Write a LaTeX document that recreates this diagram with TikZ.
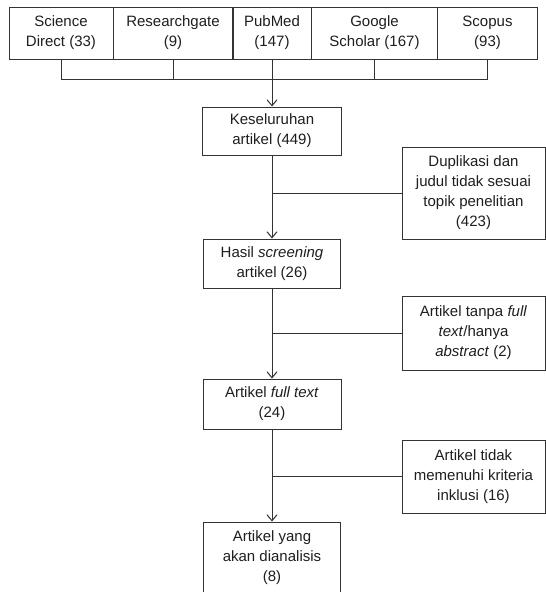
\documentclass[tikz,border=0pt]{standalone}
\usepackage{fontspec}
\setmainfont{Liberation Sans}
\usetikzlibrary{arrows.meta}
\definecolor{linec}{HTML}{333333}
\definecolor{textc}{HTML}{1E1E1E}
\begin{document}
\begin{tikzpicture}[x=1pt,y=-1pt,
  box/.style={draw=linec, line width=1pt, align=center, inner sep=0pt,
    font=\fontsize{15}{20}\selectfont, text=textc},
  link/.style={draw=linec, line width=1pt},
  arr/.style={link, -{Straight Barb[length=6pt,width=10pt,line width=1pt]}}]
\useasboundingbox (0,0) rectangle (546,592);
% source databases
\node[box, minimum width=104pt, minimum height=52pt] (sd) at (61,33) {Science\\Direct (33)};
\node[box, minimum width=120pt, minimum height=52pt] (rg) at (173,33) {Researchgate\\(9)};
\node[box, minimum width=79pt, minimum height=52pt] (pm) at (272,33) {PubMed\\(147)};
\node[box, minimum width=126pt, minimum height=52pt] (gs) at (374.5,33) {Google\\Scholar (167)};
\node[box, minimum width=100pt, minimum height=52pt] (sc) at (487.5,33) {Scopus\\(93)};
% main column
\node[box, minimum width=139pt, minimum height=48pt] (ke) at (272,131) {Keseluruhan\\artikel (449)};
\node[box, minimum width=137pt, minimum height=49pt] (hs) at (272,263.5) {Hasil \textit{screening}\\artikel (26)};
\node[box, minimum width=138pt, minimum height=50pt] (ft) at (272,404) {Artikel \textit{full text}\\(24)};
\node[box, minimum width=137pt, minimum height=72pt] (fin) at (272,558) {Artikel yang\\akan dianalisis\\(8)};
% exclusion boxes
\node[box, minimum width=143pt, minimum height=92pt] (dup) at (473.5,193) {Duplikasi dan\\judul tidak sesuai\\topik penelitian\\(423)};
\node[box, minimum width=143pt, minimum height=74pt] (tanpa) at (473.5,333) {Artikel tanpa \textit{full}\\\textit{text}/hanya\\\textit{abstract} (2)};
\node[box, minimum width=143pt, minimum height=73pt] (tidak) at (473.5,476.5) {Artikel tidak\\memenuhi kriteria\\inklusi (16)};
% bus
\coordinate (bus) at (0,79);
\draw[link] (sd.south) -- (sd.south |- bus) -- (sc.south |- bus) -- (sc.south);
\draw[link] (rg.south) -- (rg.south |- bus);
\draw[link] (gs.south) -- (gs.south |- bus);
\draw[arr] (pm.south) -- (ke.north);
% main flow
\draw[arr] (ke.south) -- (hs.north);
\draw[arr] (hs.south) -- (ft.north);
\draw[arr] (ft.south) -- (fin.north);
% exclusions
\draw[link] (dup.west) -- (dup.west -| ke.south);
\draw[link] (tanpa.west) -- (tanpa.west -| hs.south);
\draw[link] (tidak.west) -- (tidak.west -| ft.south);
\end{tikzpicture}
\end{document}
